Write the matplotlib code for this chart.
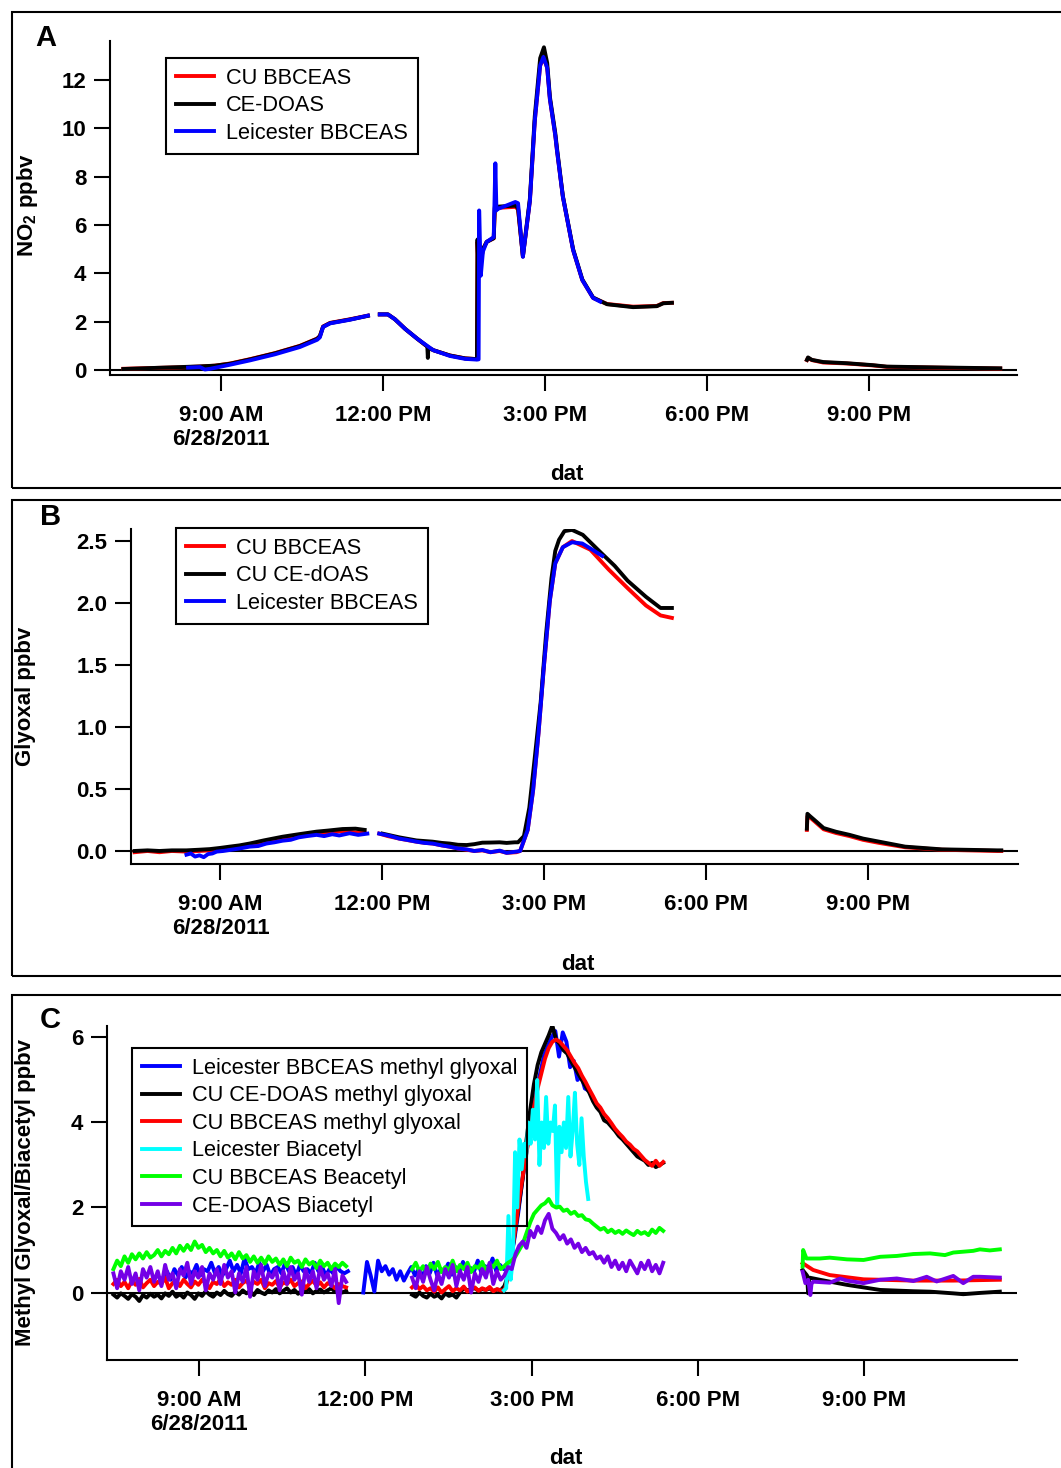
import numpy as np
import matplotlib
matplotlib.use("Agg")
import matplotlib.pyplot as plt
from matplotlib.patches import Rectangle

plt.rcParams['font.family'] = ['Liberation Sans', 'DejaVu Sans']
plt.rcParams['mathtext.fontset'] = 'custom'
plt.rcParams['mathtext.rm'] = 'Liberation Sans'
plt.rcParams['mathtext.bf'] = 'Liberation Sans:bold'

# ------------------------------------------------------------------
# Time axis: hours of day on 6/28/2011
# ------------------------------------------------------------------
hour_ticks = [9, 12, 15, 18, 21]
hour_labels = ["9:00 AM\n6/28/2011", "12:00 PM", "3:00 PM", "6:00 PM", "9:00 PM"]

# ------------------------------------------------------------------
# Panel A: NO2 (ppbv)
# ------------------------------------------------------------------
no2_cu_t1 = [7.19, 7.69, 8.24, 8.61, 8.89, 9.17, 9.54, 10.0, 10.46, 10.78, 10.83, 10.89, 11.02, 11.39, 11.72]
no2_cu_v1 = [0.05, 0.08, 0.11, 0.14, 0.18, 0.27, 0.45, 0.7, 1.0, 1.3, 1.4, 1.8, 1.95, 2.1, 2.25]
no2_cu_t2 = [11.94, 12.09, 12.22, 12.41, 12.63, 12.83, 12.93, 13.24, 13.52, 13.74,
             13.75, 13.77, 13.85, 13.92, 14.05, 14.07, 14.45, 14.5, 14.59, 14.72,
             14.81, 14.91, 14.98, 15.04, 15.09, 15.19, 15.22, 15.33, 15.52, 15.69,
             15.89, 16.15, 16.63, 17.07, 17.19, 17.35]
no2_cu_v2 = [2.3, 2.3, 2.1, 1.7, 1.3, 0.95, 0.82, 0.6, 0.48, 0.45,
             5.3, 3.9, 5.0, 5.3, 5.45, 6.7, 6.75, 6.65, 4.7, 7.0,
             10.3, 12.6, 12.9, 12.5, 11.2, 9.7, 9.1, 7.17, 4.96, 3.72,
             2.98, 2.73, 2.62, 2.65, 2.77, 2.78]
no2_cu_t3 = [19.85, 19.87, 19.94, 20.15, 20.59, 21.07, 21.33, 22.44, 23.43]
no2_cu_v3 = [0.41, 0.5, 0.41, 0.31, 0.27, 0.19, 0.13, 0.09, 0.06]

no2_doas_t1 = [7.19, 7.69, 8.24, 8.61, 8.89, 9.17, 9.54, 10.0, 10.46, 10.78, 10.83, 10.89, 11.02, 11.39, 11.72]
no2_doas_v1 = [0.04, 0.08, 0.12, 0.15, 0.18, 0.26, 0.44, 0.69, 0.99, 1.29, 1.4, 1.79, 1.94, 2.09, 2.24]
no2_doas_t2 = [11.94, 12.09, 12.22, 12.41, 12.63, 12.82, 12.83, 12.84, 12.93, 13.24,
               13.52, 13.74, 13.75, 13.77, 13.85, 13.92, 14.05, 14.07, 14.45, 14.5,
               14.59, 14.72, 14.81, 14.91, 14.98, 15.04, 15.09, 15.19, 15.22, 15.33,
               15.52, 15.69, 15.89, 16.15, 16.63, 17.07, 17.19, 17.35]
no2_doas_v2 = [2.3, 2.3, 2.1, 1.7, 1.3, 0.97, 0.5, 0.93, 0.82, 0.6,
               0.48, 0.45, 5.4, 3.9, 5.0, 5.3, 5.45, 6.75, 6.8, 6.7,
               4.7, 7.1, 10.5, 12.9, 13.35, 12.7, 11.3, 9.8, 9.2, 7.2,
               5.0, 3.75, 3.0, 2.72, 2.6, 2.64, 2.76, 2.78]
no2_doas_t3 = [19.85, 19.87, 19.94, 20.15, 20.59, 21.07, 21.33, 22.44, 23.43]
no2_doas_v3 = [0.42, 0.52, 0.42, 0.33, 0.28, 0.2, 0.14, 0.1, 0.07]

no2_leic_t1 = [8.39, 8.61, 8.70, 8.80, 9.17, 9.54, 10.0, 10.46, 10.78, 10.83, 10.89, 11.02, 11.39, 11.72]
no2_leic_v1 = [0.1, 0.12, 0.02, 0.05, 0.22, 0.4, 0.65, 0.95, 1.25, 1.35, 1.78, 1.93, 2.08, 2.25]
no2_leic_t2 = [11.94, 12.09, 12.22, 12.41, 12.63, 12.93, 13.24, 13.52, 13.74, 13.77,
               13.78, 13.81, 13.85, 13.92, 14.05, 14.08, 14.1, 14.11, 14.45, 14.5,
               14.59, 14.72, 14.81, 14.91, 14.97, 15.04, 15.09, 15.19, 15.22, 15.33,
               15.52, 15.69, 15.89, 16.02]
no2_leic_v2 = [2.3, 2.3, 2.1, 1.7, 1.3, 0.82, 0.58, 0.46, 0.43, 0.44,
               6.6, 3.9, 4.9, 5.3, 5.5, 8.55, 6.6, 6.65, 6.95, 6.9,
               4.68, 7.0, 10.3, 12.6, 12.95, 12.5, 11.2, 9.7, 9.1, 7.17,
               4.96, 3.72, 2.98, 2.83]

# ------------------------------------------------------------------
# Panel B: glyoxal (ppbv)
# ------------------------------------------------------------------
gly_am_t = [7.41, 7.65, 7.87, 8.1, 8.37, 8.6, 8.8, 9.0, 9.17, 9.35,
            9.54, 9.8, 10.15, 10.45, 10.78, 11.0, 11.26, 11.5, 11.67]
gly_cu_am = [-0.01, 0.0, -0.01, 0.0, -0.005, 0.0, 0.005, 0.015, 0.025, 0.035,
             0.05, 0.07, 0.1, 0.12, 0.14, 0.15, 0.16, 0.15, 0.15]
gly_doas_am = [0.0, 0.005, 0.0, 0.005, 0.005, 0.01, 0.015, 0.025, 0.035, 0.045,
               0.06, 0.085, 0.115, 0.135, 0.156, 0.165, 0.177, 0.18, 0.17]

gly_cu_t2 = [11.94, 12.1, 12.31, 12.5, 12.63, 12.8, 12.93, 13.1, 13.24, 13.4,
             13.56, 13.7, 13.85, 14.0, 14.17, 14.3, 14.48, 14.55, 14.69, 14.79,
             14.89, 14.99, 15.10, 15.20, 15.34, 15.51, 15.85, 16.19, 16.54, 16.88,
             17.15, 17.36]
gly_cu_v2 = [0.14, 0.12, 0.1, 0.085, 0.075, 0.065, 0.06, 0.045, 0.035, 0.02,
             0.01, 0.0, 0.005, -0.01, 0.0, -0.015, -0.01, 0.0, 0.17, 0.49,
             0.95, 1.49, 2.02, 2.32, 2.45, 2.5, 2.43, 2.27, 2.12, 1.98,
             1.9, 1.88]
gly_doas_t2 = [12.0, 12.31, 12.63, 12.93, 13.1, 13.24, 13.4, 13.56, 13.7, 13.85,
               14.0, 14.17, 14.3, 14.45, 14.51, 14.62, 14.72, 14.82, 14.93, 15.03,
               15.13, 15.2, 15.27, 15.37, 15.51, 15.71, 16.06, 16.3, 16.54, 16.88,
               17.15, 17.36]
gly_doas_v2 = [0.14, 0.11, 0.085, 0.075, 0.065, 0.06, 0.05, 0.048, 0.055, 0.067,
               0.068, 0.07, 0.065, 0.07, 0.07, 0.12, 0.35, 0.75, 1.2, 1.75,
               2.2, 2.42, 2.51, 2.58, 2.59, 2.55, 2.4, 2.3, 2.18, 2.05,
               1.96, 1.96]
gly_pm_t = [19.86, 19.87, 19.92, 20.0, 20.17, 20.4, 20.65, 20.9, 21.2, 21.68, 22.36, 23.39, 23.46]
gly_doas_pm = [0.18, 0.3, 0.28, 0.25, 0.185, 0.155, 0.13, 0.1, 0.075, 0.035, 0.013, 0.005, 0.005]
gly_cu_pm = [0.17, 0.28, 0.27, 0.24, 0.175, 0.145, 0.12, 0.09, 0.065, 0.03, 0.01, 0.0, 0.0]

gly_leic_t1 = [8.37, 8.45, 8.53, 8.61, 8.69, 8.77, 8.85, 8.93, 9.05, 9.2,
               9.35, 9.54, 9.7, 9.85, 10.0, 10.15, 10.3, 10.45, 10.6, 10.78,
               10.92, 11.07, 11.2, 11.39, 11.55, 11.72]
gly_leic_v1 = [-0.03, -0.02, -0.045, -0.035, -0.05, -0.025, -0.02, -0.005, 0.0, 0.01,
               0.02, 0.035, 0.04, 0.06, 0.07, 0.083, 0.09, 0.11, 0.12, 0.13,
               0.12, 0.135, 0.125, 0.143, 0.13, 0.14]
gly_leic_t2 = [11.94, 12.05, 12.15, 12.31, 12.45, 12.63, 12.78, 12.93, 13.1, 13.24,
               13.4, 13.56, 13.7, 13.85, 14.0, 14.17, 14.3, 14.48, 14.55, 14.69,
               14.79, 14.89, 14.99, 15.10, 15.20, 15.34, 15.51, 15.7, 15.85, 16.07]
gly_leic_v2 = [0.14, 0.13, 0.12, 0.1, 0.09, 0.075, 0.065, 0.06, 0.045, 0.035,
               0.02, 0.013, 0.0, 0.008, -0.01, 0.003, -0.015, -0.005, 0.0, 0.17,
               0.49, 0.95, 1.49, 2.02, 2.32, 2.45, 2.49, 2.48, 2.44, 2.38]

# ------------------------------------------------------------------
# Panel C: methyl glyoxal / biacetyl (ppbv), 4-minute samples
# ------------------------------------------------------------------
c_am_t = 7.45 + np.arange(64) / 15.0
c_leic_am_t = 8.35 + np.arange(51) / 15.0
c_leic_pm_t = 11.96 + np.arange(62) / 15.0
c_pm_t = 12.84 + np.arange(69) / 15.0
c_cyan_t = 14.50 + np.arange(39) * 0.04

mgly_leic_am = [0.35, 0.5, 0.3, 0.55, 0.4, 0.6, 0.35, 0.5, 0.45, 0.65,
                0.4, 0.55, 0.5, 0.7, 0.45, 0.6, 0.4, 0.55, 0.75, 0.5,
                0.65, 0.45, 0.8, 0.55, 0.6, 0.45, 0.7, 0.5, 0.65, 0.4,
                0.55, 0.6, 0.45, 0.7, 0.5, 0.6, 0.4, 0.65, 0.5, 0.55,
                0.45, 0.7, 0.5, 0.6, 0.4, 0.55, 0.45, 0.6, 0.5, 0.45, 0.5]
mgly_leic_pm = [0.0, 0.72, 0.4, 0.02, 0.75, 0.5, 0.62, 0.42, 0.55, 0.3,
                0.5, 0.28, 0.45, 0.6, 0.4, 0.55, 0.35, 0.62, 0.45, 0.7,
                0.4, 0.55, 0.5, 0.68, 0.42, 0.6, 0.48, 0.72, 0.45, 0.58,
                0.5, 0.75, 0.45, 0.62, 0.55, 0.8, 0.5, 0.65, 0.55, 0.7,
                0.8, 1.3, 1.9, 2.6, 3.2, 3.8, 4.3, 4.8, 5.2, 5.6,
                5.8, 6.0, 6.15, 5.55, 6.12, 5.9, 5.3, 5.45, 5.0, 5.1, 4.8, 4.75]

mgly_doas_am = [-0.05, -0.12, -0.02, -0.08, -0.15, -0.04, -0.1, -0.2, -0.06, -0.12,
                -0.03, -0.1, -0.05, -0.14, -0.02, -0.08, 0.02, -0.1, -0.04, -0.12,
                0.0, -0.06, -0.15, -0.02, -0.08, 0.03, -0.05, -0.1, 0.0, -0.06,
                0.04, -0.04, -0.08, 0.02, -0.05, 0.05, -0.02, 0.03, -0.06, 0.06,
                0.0, -0.04, 0.05, 0.0, 0.08, -0.02, 0.04, 0.1, 0.0, 0.06,
                -0.03, 0.05, 0.02, 0.08, -0.02, 0.04, 0.07, 0.0, 0.05, 0.1,
                0.02, 0.06, 0.0, 0.04]
mgly_doas_pm = [-0.05, -0.1, 0.0, -0.08, -0.12, -0.03, -0.1, -0.06, -0.14, -0.02,
                -0.08, -0.05, -0.12, 0.0, 0.1, 0.05, 0.08, 0.1, 0.04, 0.08,
                0.06, 0.1, 0.03, 0.07, 0.05,
                0.15, 0.4, 0.9, 1.5, 2.1, 2.7, 3.6, 4.3, 4.9, 5.35,
                5.65, 5.85, 6.05, 6.28, 5.95, 5.85, 5.7, 5.62, 5.45, 5.3,
                5.15, 5.0, 4.85, 4.7, 4.5, 4.35, 4.25, 4.05, 4.0, 3.9,
                3.8, 3.68, 3.6, 3.5, 3.4, 3.3, 3.2, 3.15, 3.1, 3.0,
                3.05, 2.95, 3.0, 3.05]

mgly_cu_am = [0.2, 0.3, 0.15, 0.25, 0.1, 0.28, 0.18, 0.32, 0.12, 0.22,
              0.3, 0.15, 0.25, 0.2, 0.35, 0.1, 0.22, 0.28, 0.15, 0.3,
              0.2, 0.12, 0.26, 0.18, 0.3, 0.22, 0.1, 0.25, 0.2, 0.32,
              0.15, 0.24, 0.18, 0.3, 0.12, 0.22, 0.28, 0.16, 0.25, 0.2,
              0.3, 0.1, 0.22, 0.18, 0.27, 0.12, 0.24, 0.2, 0.3, 0.15,
              0.22, 0.26, 0.1, 0.2, 0.28, 0.16, 0.24, 0.12, 0.22, 0.18,
              0.1, 0.2, 0.15, 0.12]
mgly_cu_pm = [0.12, 0.2, 0.08, 0.15, 0.05, 0.1, 0.02, 0.12, 0.0, 0.08,
              0.15, 0.03, 0.1, 0.05, 0.14, 0.02, 0.09, 0.12, 0.04, 0.1,
              0.06, 0.13, 0.03, 0.08, 0.05,
              0.05, 0.35, 0.95, 1.5, 2.2, 2.75, 3.3, 3.8, 4.35, 4.8,
              5.15, 5.5, 5.75, 5.9, 5.95, 5.9, 5.8, 5.7, 5.55, 5.4,
              5.28, 5.1, 4.95, 4.78, 4.62, 4.45, 4.35, 4.2, 4.1, 3.98,
              3.85, 3.75, 3.66, 3.55, 3.48, 3.38, 3.32, 3.22, 3.12, 3.05,
              2.98, 3.1, 2.98, 3.07]

biac_leic = [0.05, 0.1, 1.8, 0.3, 0.8, 3.3, 2.0, 3.6, 2.9, 3.5,
             3.2, 4.0, 3.5, 4.3, 3.6, 5.0, 3.0, 4.0, 3.4, 4.6,
             3.5, 4.0, 3.8, 4.4, 2.0, 3.9, 3.3, 4.0, 3.4, 4.6,
             3.2, 3.8, 4.7, 3.5, 3.0, 4.1, 3.2, 2.6, 2.2]

biac_cu_am = [0.55, 0.75, 0.62, 0.85, 0.7, 0.9, 0.78, 0.92, 0.8, 0.95,
              0.82, 0.88, 1.0, 0.85, 0.98, 0.9, 1.05, 0.92, 1.1, 0.98,
              1.12, 1.0, 1.2, 1.05, 1.12, 0.95, 1.05, 0.92, 1.0, 0.85,
              0.98, 0.82, 0.92, 0.78, 0.95, 0.8, 0.88, 0.72, 0.85, 0.7,
              0.82, 0.68, 0.85, 0.72, 0.8, 0.65, 0.78, 0.62, 0.82, 0.7,
              0.75, 0.6, 0.78, 0.66, 0.72, 0.58, 0.75, 0.62, 0.7, 0.55,
              0.68, 0.6, 0.7, 0.62]
biac_cu_pm = [0.55, 0.7, 0.5, 0.62, 0.45, 0.68, 0.55, 0.72, 0.48, 0.6,
              0.52, 0.75, 0.5, 0.65, 0.55, 0.7, 0.48, 0.62, 0.58, 0.72,
              0.5, 0.66, 0.6, 0.75, 0.55, 0.62,
              0.7, 0.75, 0.85, 1.0, 1.15, 1.4, 1.65, 1.85, 1.95, 2.05,
              2.1, 2.2, 2.05, 2.0, 2.02, 1.92, 1.95, 1.85, 1.9, 1.8,
              1.82, 1.72, 1.7, 1.62, 1.55, 1.48, 1.52, 1.42, 1.48, 1.4,
              1.45, 1.38, 1.46, 1.4, 1.35, 1.45, 1.38, 1.42, 1.35, 1.48,
              1.4, 1.52, 1.45]

biac_doas_am = [0.45, 0.1, 0.5, 0.3, 0.6, 0.2, 0.45, 0.05, 0.55, 0.35,
                0.6, 0.25, 0.5, 0.15, 0.65, 0.3, 0.45, 0.1, 0.55, 0.4,
                0.7, 0.2, 0.5, 0.35, 0.6, 0.05, 0.45, 0.3, 0.55, 0.2,
                0.65, 0.35, 0.5, 0.0, 0.45, 0.25, 0.6, -0.1, 0.5, 0.3,
                0.65, 0.15, 0.45, 0.35, 0.55, 0.05, 0.5, 0.2, 0.6, 0.3,
                0.45, -0.05, 0.55, 0.25, 0.5, 0.1, 0.6, 0.3, 0.45, 0.15,
                0.55, -0.25, 0.4, 0.25]
biac_doas_pm = [0.35, 0.1, 0.5, 0.25, 0.6, 0.3, 0.05, 0.45, 0.2, 0.55,
                0.35, 0.65, 0.15, 0.5, 0.3, 0.6, 0.0, 0.45, 0.25, 0.55,
                0.35, 0.7, 0.2, 0.5, 0.3,
                0.4, 0.6, 0.55, 0.9, 1.1, 1.2, 1.05, 1.45, 1.3, 1.55,
                1.4, 1.7, 1.85, 1.5, 1.4, 1.25, 1.35, 1.15, 1.25, 1.05,
                1.15, 0.95, 1.05, 0.9, 0.95, 0.8, 0.85, 0.7, 0.85, 0.6,
                0.75, 0.55, 0.7, 0.5, 0.75, 0.6, 0.45, 0.7, 0.55, 0.75,
                0.5, 0.65, 0.45, 0.7]

# evening segments
biac_cu_eve_t = [19.89, 19.9, 19.96, 20.2, 20.38, 20.69, 20.99, 21.29, 21.59, 21.89,
                 22.19, 22.46, 22.61, 22.79, 22.97, 23.09, 23.27, 23.45]
biac_cu_eve = [0.61, 1.0, 0.8, 0.8, 0.82, 0.78, 0.765, 0.84, 0.86, 0.905,
               0.92, 0.88, 0.94, 0.96, 0.98, 1.015, 0.99, 1.015]
mgly_cu_eve_t = [19.89, 20.08, 20.38, 20.69, 20.99, 21.29, 21.89, 22.61, 23.45]
mgly_cu_eve = [0.69, 0.53, 0.41, 0.36, 0.31, 0.30, 0.28, 0.28, 0.3]
mgly_doas_eve_t = [19.89, 19.97, 19.99, 20.01, 20.2, 20.69, 20.99, 21.29, 21.89, 22.19,
                   22.61, 22.79, 23.09, 23.45]
mgly_doas_eve = [0.53, 0.4, -0.02, 0.35, 0.3, 0.18, 0.12, 0.06, 0.03, 0.02,
                 -0.02, -0.04, -0.01, 0.02]
biac_doas_eve_t = [19.89, 19.94, 19.99, 20.03, 20.05, 20.08, 20.38, 20.57, 20.69, 20.99,
                   21.29, 21.59, 21.89, 22.13, 22.31, 22.61, 22.79, 22.97, 23.09, 23.45]
biac_doas_eve = [0.49, 0.22, 0.3, -0.06, 0.2, 0.255, 0.23, 0.33, 0.28, 0.22,
                 0.30, 0.33, 0.27, 0.37, 0.26, 0.39, 0.22, 0.37, 0.37, 0.35]

# ------------------------------------------------------------------
RED, BLACK, BLUE = '#FF0000', '#000000', '#0000FF'
CYAN, GREEN, PURPLE = '#00FFFF', '#00FF00', '#7400E6'
LW = 2.8
FS = 16
LEG_FS = 15.7

W, H = 1061, 1468
fig = plt.figure(figsize=(W / 100, H / 100), dpi=100)


def joined(*segments):
    """Concatenate (times, values) segments with a break between them."""
    ts, vs = [], []
    for i, (t, v) in enumerate(segments):
        if i:
            ts.append(np.nan)
            vs.append(np.nan)
        ts.extend(list(t))
        vs.extend(list(v))
    return np.array(ts, float), np.array(vs, float)


def fig_pt(x, y):
    return x / W, 1 - y / H


def make_axes(left, top, right, bottom):
    return fig.add_axes([left / W, 1 - bottom / H, (right - left) / W, (bottom - top) / H])


def style(ax, xlim, ylim, yticks, ylabels):
    ax.set_xlim(*xlim)
    ax.set_ylim(*ylim)
    ax.patch.set_alpha(0)
    for s in ('top', 'right'):
        ax.spines[s].set_visible(False)
    for s in ('left', 'bottom'):
        ax.spines[s].set_linewidth(1.5)
    ax.set_xticks(hour_ticks)
    ax.set_xticklabels(hour_labels, fontweight='bold', fontsize=FS, linespacing=1.2)
    ax.set_yticks(yticks)
    ax.set_yticklabels(ylabels, fontweight='bold', fontsize=FS)
    ax.tick_params(axis='both', direction='out', length=11.5, width=1.5)
    ax.tick_params(axis='x', pad=10)
    ax.tick_params(axis='y', pad=5.5)
    ax.axhline(0, color='black', lw=1.5, zorder=1)


def frame(top, bottom):
    x0, y0 = fig_pt(12, bottom)
    x1, y1 = fig_pt(1090, top)
    fig.add_artist(Rectangle((x0, y0), x1 - x0, y1 - y0, transform=fig.transFigure,
                             fill=False, lw=1.5, edgecolor='black', clip_on=False))


def legend(ax, handles, labels, x, y):
    leg = ax.legend(handles, labels, loc='upper left', bbox_to_anchor=fig_pt(x, y),
                    bbox_transform=fig.transFigure, borderaxespad=0, fontsize=LEG_FS,
                    handlelength=1.75, handletextpad=0.55, borderpad=0.45,
                    labelspacing=0.3, fancybox=False, framealpha=1)
    leg.get_frame().set_edgecolor('black')
    leg.get_frame().set_linewidth(1.5)
    leg.get_frame().set_facecolor('none')
    for ln in leg.get_lines():
        ln.set_linewidth(2.8)
    return leg


def ylabel(text, x, y):
    fx, fy = fig_pt(x, y)
    fig.text(fx, fy, text, rotation=90, ha='center', va='center',
             fontweight='bold', fontsize=FS)


def xlabel(x, y):
    fx, fy = fig_pt(x, y)
    fig.text(fx, fy, 'dat', ha='center', va='center', fontweight='bold', fontsize=FS)


def letter(text, x, y):
    fx, fy = fig_pt(x, y)
    fig.text(fx, fy, text, ha='center', va='center', fontweight='bold', fontsize=21)


# ---------------- Panel A ----------------
frame(12, 488)
axA = make_axes(110, 41, 1017, 375)
style(axA, (6.944, 23.74), (-0.207, 13.61), [0, 2, 4, 6, 8, 10, 12],
      ['0', '2', '4', '6', '8', '10', '12'])
t, v = joined((no2_cu_t1, no2_cu_v1), (no2_cu_t2, no2_cu_v2), (no2_cu_t3, no2_cu_v3))
la1, = axA.plot(t, v, color=RED, lw=LW)
t, v = joined((no2_doas_t1, no2_doas_v1), (no2_doas_t2, no2_doas_v2), (no2_doas_t3, no2_doas_v3))
la2, = axA.plot(t, v, color=BLACK, lw=LW)
t, v = joined((no2_leic_t1, no2_leic_v1), (no2_leic_t2, no2_leic_v2))
la3, = axA.plot(t, v, color=BLUE, lw=LW)
legend(axA, [la1, la2, la3], ['CU BBCEAS', 'CE-DOAS', 'Leicester BBCEAS'], 166, 58)
ylabel(r'NO$_\mathbf{2}$ ppbv', 27, 205)
xlabel(567, 475)
letter('A', 46, 38)

# ---------------- Panel B ----------------
frame(500, 976)
axB = make_axes(131, 529, 1018, 864)
style(axB, (7.343, 23.77), (-0.105, 2.597), [0.0, 0.5, 1.0, 1.5, 2.0, 2.5],
      ['0.0', '0.5', '1.0', '1.5', '2.0', '2.5'])
t, v = joined((gly_am_t, gly_cu_am), (gly_cu_t2, gly_cu_v2), (gly_pm_t, gly_cu_pm))
lb1, = axB.plot(t, v, color=RED, lw=LW)
t, v = joined((gly_am_t, gly_doas_am), (gly_doas_t2, gly_doas_v2), (gly_pm_t, gly_doas_pm))
lb2, = axB.plot(t, v, color=BLACK, lw=LW)
t, v = joined((gly_leic_t1, gly_leic_v1), (gly_leic_t2, gly_leic_v2))
lb3, = axB.plot(t, v, color=BLUE, lw=LW)
legend(axB, [lb1, lb2, lb3], ['CU BBCEAS', 'CU CE-dOAS', 'Leicester BBCEAS'], 176, 528)
ylabel('Glyoxal ppbv', 26, 696)
xlabel(578, 964)
letter('B', 51, 517)

# ---------------- Panel C ----------------
frame(995, 1490)
axC = make_axes(107, 1026, 1017, 1360)
style(axC, (7.334, 23.76), (-1.588, 6.27), [0, 2, 4, 6], ['0', '2', '4', '6'])
t, v = joined((c_leic_am_t, mgly_leic_am), (c_leic_pm_t, mgly_leic_pm))
lc1, = axC.plot(t, v, color=BLUE, lw=LW)
t, v = joined((c_am_t, mgly_doas_am), (c_pm_t, mgly_doas_pm), (mgly_doas_eve_t, mgly_doas_eve))
lc2, = axC.plot(t, v, color=BLACK, lw=LW)
t, v = joined((c_am_t, mgly_cu_am), (c_pm_t, mgly_cu_pm), (mgly_cu_eve_t, mgly_cu_eve))
lc3, = axC.plot(t, v, color=RED, lw=LW)
lc4, = axC.plot(c_cyan_t, biac_leic, color=CYAN, lw=LW)
t, v = joined((c_am_t, biac_cu_am), (c_pm_t, biac_cu_pm), (biac_cu_eve_t, biac_cu_eve))
lc5, = axC.plot(t, v, color=GREEN, lw=LW)
t, v = joined((c_am_t, biac_doas_am), (c_pm_t, biac_doas_pm), (biac_doas_eve_t, biac_doas_eve))
lc6, = axC.plot(t, v, color=PURPLE, lw=LW)
legend(axC, [lc1, lc2, lc3, lc4, lc5, lc6],
       ['Leicester BBCEAS methyl glyoxal', 'CU CE-DOAS methyl glyoxal',
        'CU BBCEAS methyl glyoxal', 'Leicester Biacetyl',
        'CU BBCEAS Beacetyl', 'CE-DOAS Biacetyl'], 132, 1048)
ylabel('Methyl Glyoxal/Biacetyl ppbv', 26, 1193)
xlabel(566, 1459)
letter('C', 50, 1020)

fig.savefig('out.png', dpi=100)
